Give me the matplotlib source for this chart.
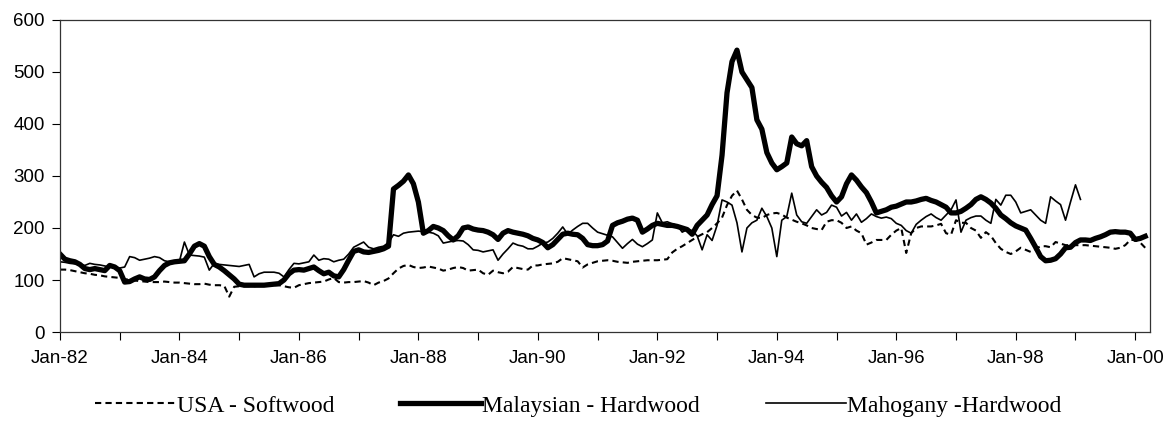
import matplotlib
matplotlib.use('Agg')
import matplotlib.pyplot as plt
import numpy as np

# monthly index prices, Jan-82 onwards
malaysian = [
    150, 140, 137, 135, 130, 122, 120, 122, 120, 118, 128, 125,   # 1982
    118, 96, 97, 102, 106, 102, 101, 106, 118, 128, 133, 135,     # 1983
    136, 137, 150, 165, 170, 165, 145, 130, 125, 118, 110, 102,   # 1984
    92, 90, 90, 90, 90, 90, 91, 92, 93, 100, 112, 119,            # 1985
    120, 119, 122, 125, 118, 112, 115, 108, 106, 120, 138, 155,   # 1986
    158, 154, 153, 155, 157, 160, 165, 275, 282, 290, 302, 285,   # 1987
    250, 190, 195, 203, 200, 195, 185, 177, 185, 200, 202, 198,   # 1988
    196, 195, 192, 187, 178, 190, 195, 192, 190, 188, 185, 180,   # 1989
    177, 172, 162, 168, 178, 188, 190, 188, 187, 180, 168, 166,   # 1990
    166, 168, 175, 205, 210, 213, 217, 219, 215, 192, 198, 205,   # 1991
    209, 207, 205, 205, 203, 200, 197, 188, 205, 215, 225, 245,   # 1992
    262, 340, 460, 520, 542, 500, 485, 470, 408, 390, 345, 325,   # 1993
    312, 318, 325, 375, 362, 358, 368, 318, 300, 288, 278, 262,   # 1994
    250, 260, 285, 302, 292, 279, 268, 250, 229, 232, 235, 240,   # 1995
    242, 246, 250, 250, 252, 255, 257, 253, 250, 245, 240, 229,   # 1996
    229, 232, 238, 245, 255, 260, 255, 248, 238, 225, 218, 210,   # 1997
    204, 200, 196, 180, 163, 145, 137, 138, 141, 150, 162, 163,   # 1998
    172, 177, 177, 176, 180, 183, 187, 192, 193, 192, 192, 190,   # 1999
    178, 180, 184,                                                # 2000
]

usa = [
    120, 120, 119, 117, 115, 113, 112, 110, 109, 107, 106, 105,   # 1982
    104, 102, 100, 99, 98, 97, 96, 96, 96, 97, 96, 95,            # 1983
    95, 94, 93, 92, 92, 93, 91, 90, 90, 89, 68, 87,               # 1984
    88, 88, 88, 88, 89, 89, 89, 90, 90, 88, 86, 85,               # 1985
    90, 92, 94, 95, 96, 97, 101, 104, 96, 95, 96, 96,             # 1986
    97, 98, 95, 90, 95, 98, 103, 113, 122, 127, 129, 125,         # 1987
    123, 124, 126, 124, 122, 118, 120, 123, 125, 123, 118, 119,   # 1988
    120, 113, 110, 118, 115, 113, 116, 125, 123, 121, 120, 128,   # 1989
    128, 130, 131, 132, 135, 142, 140, 138, 136, 124, 130, 133,   # 1990
    136, 137, 138, 137, 135, 134, 133, 135, 136, 137, 138, 138,   # 1991
    138, 139, 140, 153, 160, 165, 171, 177, 183, 188, 192, 200,   # 1992
    209, 220, 244, 262, 272, 255, 235, 225, 220, 219, 225, 228,   # 1993
    229, 226, 220, 216, 212, 209, 205, 200, 198, 196, 212, 215,   # 1994
    215, 210, 200, 203, 195, 190, 168, 172, 177, 177, 177, 187,   # 1995
    195, 200, 152, 190, 200, 203, 203, 203, 205, 208, 190, 187,   # 1996
    215, 210, 210, 200, 195, 181, 192, 185, 171, 160, 154, 150,   # 1997
    155, 162, 158, 154, 160, 165, 165, 163, 173, 170, 167, 167,   # 1998
    167, 167, 167, 166, 165, 164, 163, 162, 160, 162, 167, 177,   # 1999
    177, 172, 162,                                                # 2000
]

mahogany = [
    135, 134, 132, 131, 130, 128, 132, 130, 129, 127, 125, 124,   # 1982
    123, 125, 145, 143, 138, 140, 142, 145, 143, 137, 135, 135,   # 1983
    136, 173, 148, 147, 146, 144, 119, 132, 130, 129, 128, 127,   # 1984
    126, 128, 130, 106, 112, 115, 115, 115, 113, 106, 120, 132,   # 1985
    131, 133, 135, 148, 138, 141, 140, 135, 138, 140, 150, 163,   # 1986
    168, 173, 163, 160, 163, 165, 172, 187, 184, 190, 192, 193,   # 1987
    194, 193, 192, 190, 185, 171, 173, 175, 176, 175, 168, 158,   # 1988
    157, 154, 156, 158, 138, 150, 160, 171, 167, 165, 160, 160,   # 1989
    165, 171, 173, 180, 190, 202, 188, 196, 203, 209, 209, 200,   # 1990
    192, 189, 186, 183, 172, 161, 170, 178, 169, 164, 170, 177,   # 1991
    229, 210, 212, 208, 205, 192, 197, 195, 185, 158, 187, 176,   # 1992
    205, 254, 250, 244, 210, 154, 200, 210, 215, 238, 222, 200,   # 1993
    145, 215, 222, 267, 225, 212, 209, 222, 235, 225, 230, 244,   # 1994
    240, 223, 230, 215, 227, 211, 218, 227, 222, 219, 221, 218,   # 1995
    209, 205, 195, 190, 207, 215, 222, 227, 220, 215, 225, 235,   # 1996
    254, 192, 215, 220, 223, 223, 215, 209, 255, 244, 263, 263,   # 1997
    250, 229, 232, 235, 225, 215, 209, 260, 252, 245, 215, 250,   # 1998
    283, 255,                                                     # 1999
]

years = ['82', '83', '84', '85', '86', '87', '88', '89', '90',
         '91', '92', '93', '94', '95', '96', '97', '98', '99', '00']
tick_labels = ['Jan-' + y if i % 2 == 0 else '' for i, y in enumerate(years)]

fig = plt.figure(figsize=(11.71, 4.21), dpi=100)
ax = fig.add_axes([0.0512, 0.2114, 0.931, 0.7411])

ax.plot(np.arange(len(usa)), usa, color='black', lw=1.5,
        linestyle=(0, (3, 2)), label='USA - Softwood')
ax.plot(np.arange(len(malaysian)), malaysian, color='black', lw=3.8,
        solid_joinstyle='round', label='Malaysian - Hardwood')
ax.plot(np.arange(len(mahogany)), mahogany, color='black', lw=1.2,
        label='Mahogany -Hardwood')

ax.set_xlim(0, 219)
ax.set_ylim(0, 600)
ax.set_yticks(np.arange(0, 601, 100))
ax.set_xticks(np.arange(len(years)) * 12)
ax.set_xticklabels(tick_labels)
ax.tick_params(axis='both', direction='out', length=6, width=0.8,
               labelsize=13.5, colors='black')
ax.tick_params(axis='x', pad=7)
ax.tick_params(axis='y', pad=5)
for lab in ax.get_xticklabels() + ax.get_yticklabels():
    lab.set_family('Liberation Sans')
for s in ax.spines.values():
    s.set_color('#333333')
    s.set_linewidth(0.9)

fig.legend(loc='center', bbox_to_anchor=(0.494, 0.036), ncol=3,
           frameon=False, handlelength=3.4, handletextpad=0.05,
           columnspacing=2.8, borderpad=0,
           prop={'family': 'Liberation Serif', 'size': 17})

plt.savefig('out.png', dpi=100)
